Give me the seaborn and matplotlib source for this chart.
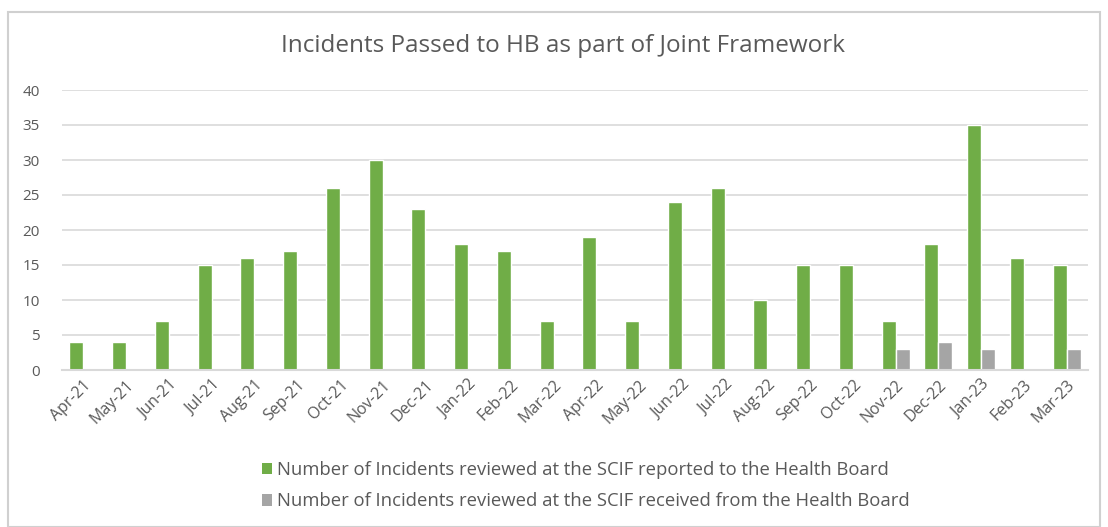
import matplotlib
matplotlib.use("Agg")
import matplotlib.pyplot as plt
import seaborn as sns
import pandas as pd
from matplotlib.patches import Rectangle, Patch

months = ["Apr-21", "May-21", "Jun-21", "Jul-21", "Aug-21", "Sep-21", "Oct-21", "Nov-21",
          "Dec-21", "Jan-22", "Feb-22", "Mar-22", "Apr-22", "May-22", "Jun-22", "Jul-22",
          "Aug-22", "Sep-22", "Oct-22", "Nov-22", "Dec-22", "Jan-23", "Feb-23", "Mar-23"]
reported = [4, 4, 7, 15, 16, 17, 26, 30, 23, 18, 17, 7, 19, 7, 24, 26, 10, 15, 15, 7, 18, 35, 16, 15]
received = [0, 0, 0, 0, 0, 0, 0, 0, 0, 0, 0, 0, 0, 0, 0, 0, 0, 0, 0, 3, 4, 3, 0, 3]
series_names = ["Number of Incidents reviewed at the SCIF reported to the Health Board",
                "Number of Incidents reviewed at the SCIF received from the Health Board"]
colors = ["#70ad47", "#a5a5a5"]

df = pd.DataFrame({
    "Month": months * 2,
    "Value": reported + received,
    "Series": [series_names[0]] * len(months) + [series_names[1]] * len(months),
})

sns.set_theme(style="white")
plt.rcParams['font.family'] = ['Open Sans', 'DejaVu Sans']

fig = plt.figure(figsize=(11.08, 5.27), dpi=100)
ax = fig.add_axes([62 / 1108, 1 - 370 / 527, (1088 - 62) / 1108, (370 - 90) / 527])

sns.barplot(data=df, x="Month", y="Value", hue="Series", palette=colors, width=0.66,
            ax=ax, legend=False, saturation=1)

ax.set_ylim(0, 40)
ax.set_xlim(-0.5, len(months) - 0.5)
ax.set_yticks(range(0, 41, 5))
ax.yaxis.grid(True, color="#d9d9d9", linewidth=1.2)
ax.set_axisbelow(True)
for s in ["top", "right", "left"]:
    ax.spines[s].set_visible(False)
ax.spines["bottom"].set_color("#d9d9d9")
ax.spines["bottom"].set_linewidth(1.5)
ax.set_xlabel("")
ax.set_ylabel("")
ax.tick_params(axis="y", length=0, labelsize=11, labelcolor="#595959", pad=16)
ax.tick_params(axis="x", length=0, labelsize=11.5, labelcolor="#595959", pad=5)
for lbl in ax.get_xticklabels():
    lbl.set_rotation(45)
    lbl.set_ha("right")
    lbl.set_rotation_mode("anchor")

fig.text(563 / 1108, 1 - 46 / 527, "Incidents Passed to HB as part of Joint Framework",
         ha="center", va="center", fontsize=17.5, color="#595959")

handles = [Patch(facecolor=c, edgecolor="none") for c in colors]
fig.legend(handles, series_names, loc="upper left", bbox_to_anchor=(245 / 1108, 1 - 444 / 527),
           frameon=False, fontsize=13.3, labelcolor="#595959", handlelength=0.55, handleheight=0.55,
           handletextpad=0.3, labelspacing=0.75)

# outer chart frame
fig.patches.append(Rectangle((8 / 1108, 0), 1092 / 1108, 1 - 12 / 527, transform=fig.transFigure,
                             facecolor="none", edgecolor="#d0d0d0", linewidth=1.5))

fig.savefig("out.png", dpi=100)
